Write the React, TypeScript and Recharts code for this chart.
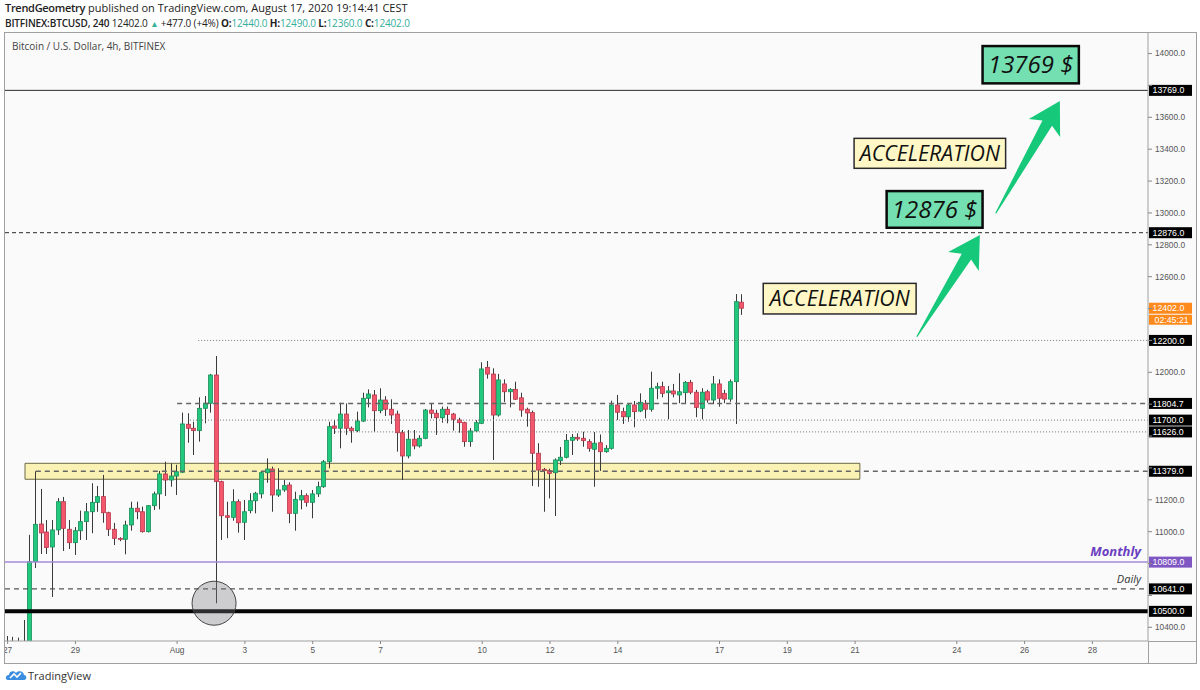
import React from 'react';
import { ComposedChart, Bar, XAxis, YAxis, ReferenceLine, ReferenceArea, ReferenceDot } from 'recharts';

// ---- data ----
const CANDLES_PER_DAY = 6; // 4h candles, index 0 = Jul 27 00:00
const OPEN = [10180,10250,10290,10280,10305,10812,11048,10998,10904,11011,11188,11015,10931,11006,11063,11125,11184,11220,11119,11015,10958,10952,11042,11147,11125,11000,11163,11237,11362,11324,11349,11373,11674,11649,11634,11774,11806,11983,11314,11100,11090,11188,11059,11132,11194,11237,11370,11393,11230,11262,11293,11115,11199,11226,11184,11237,11282,11439,11663,11649,11738,11649,11634,11694,11837,11858,11759,11826,11768,11738,11621,11475,11580,11538,11586,11763,11743,11715,11768,11738,11701,11684,11565,11632,11680,12031,11989,11732,11927,11878,11893,11840,11768,11747,11492,11391,11383,11370,11445,11467,11573,11592,11586,11565,11517,11558,11502,11523,11795,11753,11721,11795,11757,11806,11768,11900,11910,11872,11883,11858,11872,11937,11875,11774,11878,11826,11927,11868,11832,11941,12440];
const HIGH = [10345,10340,10335,10446,10980,11379,11268,11073,11073,11211,11218,11073,11029,11132,11180,11304,11287,11356,11125,11055,10965,11069,11188,11188,11157,11167,11251,11381,11439,11429,11420,11747,11743,11690,11843,11851,11990,12102,11320,11188,11266,11203,11199,11241,11250,11380,11460,11408,11398,11324,11310,11251,11262,11240,11262,11314,11450,11690,11701,11809,11805,11660,11753,11872,11893,11889,11900,11850,11831,11759,11638,11638,11638,11605,11770,11806,11765,11785,11785,11745,11715,11690,11650,11700,12063,12071,12025,11990,11956,11900,11941,11872,11778,11760,11555,11400,11395,11460,11531,11613,11613,11617,11627,11580,11625,11610,11543,11822,11858,11778,11805,11820,11868,11826,12004,11935,11941,11914,11927,11994,11945,11952,11890,11900,11890,11977,11956,11890,11955,12491,12490];
const LOW = [10050,10150,10200,10200,10250,10772,10860,10860,10590,10980,10879,10891,10854,10948,10948,10990,11125,11056,10973,10916,10940,10858,11006,11078,10994,10995,11136,11140,11224,11282,11230,11368,11558,11481,11565,11680,11747,10551,10948,10959,11069,10994,10948,11115,11115,11209,11307,11125,11218,11250,11053,11006,11140,11157,11084,11218,11275,11398,11613,11523,11607,11558,11625,11688,11780,11627,11743,11726,11676,11502,11324,11460,11517,11528,11580,11711,11607,11684,11680,11634,11621,11533,11533,11625,11675,11960,11450,11722,11814,11780,11826,11721,11659,11287,11282,11125,11209,11098,11418,11460,11481,11570,11533,11502,11282,11381,11495,11515,11701,11676,11690,11655,11750,11711,11753,11831,11843,11705,11843,11806,11806,11862,11718,11705,11809,11800,11784,11806,11815,11676,12360];
const CLOSE = [10250,10290,10280,10305,10812,11046,10992,10901,11011,11188,11021,10931,11006,11063,11125,11184,11220,11119,11015,10958,10952,11042,11147,11125,11000,11163,11237,11362,11324,11349,11376,11676,11649,11634,11774,11806,11983,11314,11100,11090,11188,11056,11125,11194,11241,11370,11393,11230,11262,11289,11115,11203,11226,11184,11237,11282,11439,11659,11649,11738,11649,11634,11694,11837,11864,11759,11826,11768,11732,11621,11475,11580,11538,11586,11763,11743,11715,11768,11736,11705,11684,11565,11632,11684,12021,11989,11732,11952,11878,11893,11831,11763,11745,11492,11387,11383,11366,11450,11467,11573,11592,11582,11571,11523,11555,11502,11523,11795,11749,11721,11795,11753,11812,11768,11900,11910,11868,11883,11864,11878,11937,11875,11780,11875,11826,11927,11837,11832,11941,12443,12402];

const DAY_TICKS = [0, 2, 5, 7, 9, 11, 14, 16, 18, 21, 23, 25, 28, 30, 32];
const DAY_LABELS = ['27', '29', 'Aug', '3', '5', '7', '10', '12', '14', '17', '19', '21', '24', '26', '28'];
const PRICE_TICKS = [10400, 10600, 10800, 11000, 11200, 11400, 11600, 11800, 12000, 12200, 12400, 12600, 12800, 13000, 13200, 13400, 13600, 13800, 14000];
const X_DOMAIN: [number, number] = [-0.077, 33.64];
const Y_DOMAIN: [number, number] = [10314, 14129];

// horizontal levels: price, start (days)
const LEVEL_PRICES = [13769, 12876, 12200, 11804.7, 11700, 11626, 11379, 10809, 10641, 10500];
const LEVEL_STARTS = [X_DOMAIN[0], X_DOMAIN[0], 5.62, 5.0, 5.38, 9.66, 0.833, X_DOMAIN[0], X_DOMAIN[0], X_DOMAIN[0]];
const LAST_PRICE = 12402;
const COUNTDOWN = '02:45:21';
const ZONE = { t1: 0.513, t2: 25.14, p1: 11329, p2: 11429 };
const CIRCLE = { t: 6.09, p: 10551 };
const ARROWS = [
  { t1: 26.82, t2: 28.68, p1: 12223, p2: 12861 },
  { t1: 29.15, t2: 31.04, p1: 12998, p2: 13702 },
];
const NOTES = [
  { text: '13769 $', t1: 28.76, t2: 31.6, p1: 13813, p2: 14047, kind: 'price' },
  { text: 'ACCELERATION', t1: 24.97, t2: 29.44, p1: 13280, p2: 13468, kind: 'word' },
  { text: '12876 $', t1: 25.93, t2: 28.76, p1: 12907, p2: 13137, kind: 'price' },
  { text: 'ACCELERATION', t1: 22.29, t2: 26.8, p1: 12366, p2: 12558, kind: 'word' },
];

const candles = OPEN.map((o, i) => ({
  t: i / CANDLES_PER_DAY,
  open: o,
  high: HIGH[i],
  low: LOW[i],
  close: CLOSE[i],
  range: [LOW[i], HIGH[i]],
}));

const BOXED = [...LEVEL_PRICES, LAST_PRICE];

// ---- shapes ----
const Candle = (props: any) => {
  const { x, y, width, height, payload } = props;
  if (x == null || !payload) return null;
  const top = Math.min(y, y + height);
  const bot = Math.max(y, y + height);
  const span = payload.high - payload.low || 1;
  const py = (v: number) => top + ((payload.high - v) / span) * (bot - top);
  const cx = Math.floor(x + width / 2) + 0.5;
  const up = payload.close >= payload.open;
  const yo = py(payload.open);
  const yc = py(payload.close);
  const bTop = Math.min(yo, yc);
  const bH = Math.max(1, Math.abs(yc - yo));
  return (
    <g>
      <line x1={cx} x2={cx} y1={top} y2={bot} stroke="#3a3a3a" strokeWidth={1} />
      <rect x={cx - 2} y={bTop} width={4} height={bH}
        fill={up ? '#22c87e' : '#f4566b'} stroke={up ? '#179059' : '#b8384d'} strokeWidth={0.8} />
    </g>
  );
};

const arrowShape = (p: any) => {
  const { x, y, width, height } = p;
  const x0 = x, y0 = y + height, x1 = x + width, y1 = y;
  const dx = x1 - x0, dy = y1 - y0;
  const L = Math.hypot(dx, dy) || 1;
  const ux = dx / L, uy = dy / L;
  const nx = -uy, ny = ux;
  const headLen = 31, headHalf = 18, shaftHalf = 5.5, tailHalf = 0.6;
  const bx = x1 - ux * headLen, by = y1 - uy * headLen;
  const jx = x1 - ux * headLen * 0.82, jy = y1 - uy * headLen * 0.82;
  const pts = [
    [x0 + nx * tailHalf, y0 + ny * tailHalf],
    [jx + nx * shaftHalf, jy + ny * shaftHalf],
    [bx + nx * headHalf, by + ny * headHalf],
    [x1, y1],
    [bx - nx * headHalf, by - ny * headHalf],
    [jx - nx * shaftHalf, jy - ny * shaftHalf],
    [x0 - nx * tailHalf, y0 - ny * tailHalf],
  ];
  return <polygon points={pts.map((q) => q.join(',')).join(' ')} fill="#16c879" />;
};

const noteShape = (text: string, kind: string) => (p: any) => {
  const { x, y, width, height } = p;
  const isPrice = kind === 'price';
  return (
    <g>
      <rect x={x} y={y} width={width} height={height}
        fill={isPrice ? '#74e0b2' : '#fff8c6'}
        stroke={isPrice ? '#0a0a0a' : '#2a2a2a'} strokeWidth={isPrice ? 2.5 : 1.5} />
      <text x={x + width / 2} y={y + height / 2} dy="0.36em" textAnchor="middle"
        fontFamily='"Open Sans", sans-serif' fontStyle="italic"
        fontSize={isPrice ? 24 : 21.3} fill="#111">{text}</text>
    </g>
  );
};

const boxLabel = (text: string, bg: string, extra?: { text: string; color: string; dy: number; size: number; weight: number; italic: boolean }, sub?: string) => (props: any) => {
  const vb = props.viewBox || {};
  const xr = (vb.x || 0) + (vb.width || 0);
  const yc = vb.y || 0;
  return (
    <g>
      {extra && (
        <text x={xr - 7} y={yc + extra.dy} textAnchor="end" fontFamily='"Open Sans", sans-serif'
          fontSize={extra.size} fontWeight={extra.weight} fontStyle={extra.italic ? 'italic' : 'normal'}
          fill={extra.color}>{extra.text}</text>
      )}
      <rect x={xr + 1} y={yc - 5.5} width={43} height={11} fill={bg} />
      <text x={xr + 4.5} y={yc} dy="0.35em" fontFamily='"Liberation Sans", Arial, sans-serif' fontSize={8.8} fill="#fff">{text}</text>
      {sub && (
        <g>
          <rect x={xr + 1} y={yc + 6.5} width={43} height={10} fill={bg} />
          <text x={xr + 6.5} y={yc + 11.5} dy="0.35em" fontFamily='"Liberation Sans", Arial, sans-serif' fontSize={8.8} fill="#fff">{sub}</text>
        </g>
      )}
    </g>
  );
};

const PriceTick = (props: any) => {
  const { x, y, payload } = props;
  const v = payload && payload.value;
  if (v == null || BOXED.some((b) => Math.abs(b - v) < 45)) return null;
  return (
    <text x={x} y={y} dy="0.35em" textAnchor="start" fill="#555" fontSize={8.3}
      fontFamily='"Liberation Sans", Arial, sans-serif'>{Number(v).toFixed(1)}</text>
  );
};

const levelStyle = [
  { stroke: '#2b2b2b', dash: undefined, w: 1 },
  { stroke: '#2b2b2b', dash: '4 3', w: 1 },
  { stroke: '#777', dash: '1 2', w: 1 },
  { stroke: '#666', dash: '5 4', w: 1.5 },
  { stroke: '#777', dash: '1 2', w: 1 },
  { stroke: '#777', dash: '1 2', w: 1 },
  { stroke: '#666', dash: '5 4', w: 1.3 },
  { stroke: '#a48ad8', dash: undefined, w: 1.5 },
  { stroke: '#555', dash: '5 4', w: 1.3 },
  { stroke: '#050505', dash: undefined, w: 4 },
];

const dayLabel = (v: number) => {
  const i = DAY_TICKS.indexOf(v);
  return i >= 0 ? DAY_LABELS[i] : '';
};

const teal = '#35ae9a';

export default function App() {
  return (
    <div style={{ position: 'absolute', left: 0, top: 0, width: 1200, height: 690, background: '#fff', overflow: 'hidden', fontFamily: '"Open Sans", sans-serif' }}>
      <div style={{ position: 'absolute', left: 5, top: 0, fontSize: 11, lineHeight: '15px', color: '#222', whiteSpace: 'nowrap' }}>
        <b style={{ fontWeight: 600, letterSpacing: -0.3 }}>TrendGeometry</b> published on TradingView.com, August 17, 2020 19:14:41 CEST
      </div>
      <div style={{ position: 'absolute', left: 5, top: 15.5, fontSize: 10, letterSpacing: -0.15, lineHeight: '15px', color: '#222', whiteSpace: 'nowrap' }}>
        <b style={{ fontWeight: 600 }}>BITFINEX:BTCUSD, 240</b> 12402.0 <span style={{ color: teal, fontSize: 8.5 }}>▲</span> +477.0 (+4%) <b>O:</b><span style={{ color: teal }}>12440.0</span> <b>H:</b><span style={{ color: teal }}>12490.0</span> <b>L:</b><span style={{ color: teal }}>12360.0</span> <b>C:</b><span style={{ color: teal }}>12402.0</span>
      </div>
      <div style={{ position: 'absolute', left: 4, top: 32, width: 1193, height: 632, border: '1px solid #a0a0a0', boxSizing: 'border-box', background: '#fafafa' }} />
      <div style={{ position: 'absolute', left: 1148, top: 641, width: 48, height: 1, background: '#a0a0a0' }} />
      <div style={{ position: 'absolute', left: 1148, top: 641, width: 1, height: 22, background: '#a0a0a0' }} />
      <div style={{ position: 'absolute', left: 5, top: 33 }}>
        <ComposedChart width={1191} height={630} data={candles} margin={{ top: 0, right: 0, bottom: 0, left: 0 }}>
          <XAxis dataKey="t" type="number" domain={X_DOMAIN} allowDataOverflow ticks={DAY_TICKS} interval={0}
            tickFormatter={dayLabel} height={22} tickSize={3} tickMargin={3}
            tick={{ fill: '#555', fontSize: 8.3, fontFamily: '"Liberation Sans", Arial, sans-serif' }}
            axisLine={{ stroke: '#a0a0a0' }} tickLine={{ stroke: '#888' }} />
          <YAxis orientation="right" type="number" domain={Y_DOMAIN} allowDataOverflow ticks={PRICE_TICKS} interval={0}
            width={48} tickSize={4} tickMargin={3} tick={PriceTick}
            axisLine={{ stroke: '#a0a0a0' }} tickLine={{ stroke: '#888' }} />
          <Bar dataKey="range" barSize={5} shape={Candle} isAnimationActive={false} />
          <ReferenceArea x1={ZONE.t1} x2={ZONE.t2} y1={ZONE.p1} y2={ZONE.p2}
            fill="rgb(250,232,95)" fillOpacity={0.45} stroke="#5e5b35" strokeWidth={1} strokeOpacity={0.9} />
          <ReferenceDot x={CIRCLE.t} y={CIRCLE.p} r={22} fill="rgb(120,120,128)" fillOpacity={0.35} stroke="#444" strokeWidth={1} />
          {LEVEL_PRICES.map((p, i) => {
            const st = levelStyle[i];
            let extra: any = undefined;
            let bg = '#000';
            if (p === 10809) {
              bg = '#7e57c2';
              extra = { text: 'Monthly', color: '#6a3fc0', dy: -6, size: 13, weight: 700, italic: true };
            }
            if (p === 10641) {
              extra = { text: 'Daily', color: '#333', dy: -6, size: 11, weight: 400, italic: true };
            }
            return (
              <ReferenceLine key={i}
                segment={[{ x: LEVEL_STARTS[i], y: p }, { x: X_DOMAIN[1], y: p }]}
                stroke={st.stroke} strokeDasharray={st.dash} strokeWidth={st.w}
                label={boxLabel(p.toFixed(1), bg, extra)} />
            );
          })}
          <ReferenceLine y={LAST_PRICE} stroke="none" strokeOpacity={0}
            label={boxLabel(LAST_PRICE.toFixed(1), '#ff8a1c', undefined, COUNTDOWN)} />
          {NOTES.map((n, i) => (
            <ReferenceArea key={'n' + i} x1={n.t1} x2={n.t2} y1={n.p1} y2={n.p2} shape={noteShape(n.text, n.kind)} />
          ))}
          {ARROWS.map((a, i) => (
            <ReferenceArea key={'a' + i} x1={a.t1} x2={a.t2} y1={a.p1} y2={a.p2} shape={arrowShape} />
          ))}
        </ComposedChart>
      </div>
      <div style={{ position: 'absolute', left: 12, top: 38.5, fontSize: 10, lineHeight: '14px', color: '#444', whiteSpace: 'nowrap' }}>
        Bitcoin / U.S. Dollar, 4h, BITFINEX
      </div>
      <svg style={{ position: 'absolute', left: 5, top: 667 }} width={22} height={16}>
        <path d="M3 13 C0 13 0 8 4 8 C4 4 9 3 11 6 C13 3 19 4 19 8 C22 8 22 13 19 13 Z" fill="#3a8ee0" />
        <path d="M5 11 L9 7 L12 10 L16 6" stroke="#fff" strokeWidth={1.6} fill="none" />
      </svg>
      <div style={{ position: 'absolute', left: 28, top: 668, fontSize: 11, lineHeight: '15px', color: '#333' }}>TradingView</div>
    </div>
  );
}
